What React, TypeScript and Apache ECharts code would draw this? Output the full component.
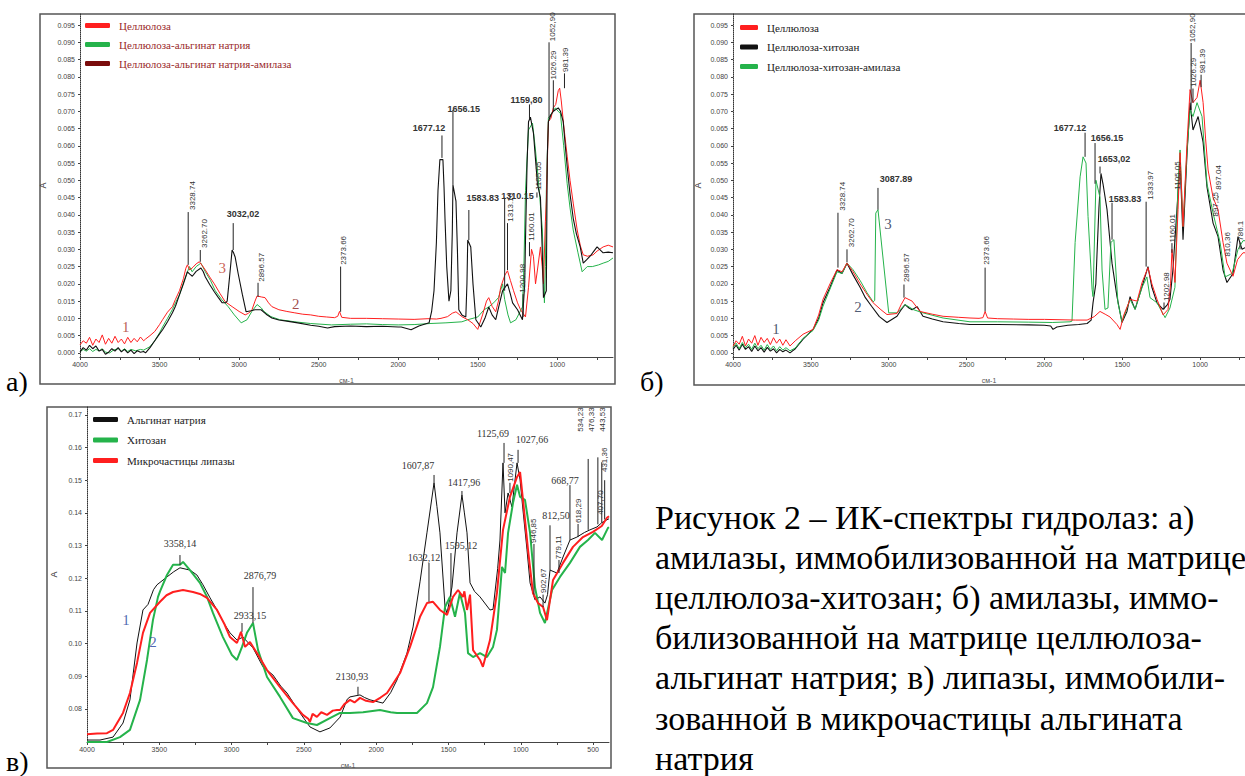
import React, { useEffect, useRef } from "react";
import * as echarts from "echarts";

// ---------- tick labels ----------
const xLabelsAB = [4000, 3500, 3000, 2500, 2000, 1500, 1000];
const xTicksAB = [4000, 3750, 3500, 3250, 3000, 2750, 2500, 2250, 2000, 1750, 1500, 1250, 1000, 750];
const xLabelsC = [4000, 3500, 3000, 2500, 2000, 1500, 1000, 500];
const xTicksC = [4000, 3750, 3500, 3250, 3000, 2750, 2500, 2250, 2000, 1750, 1500, 1250, 1000, 750, 500];
const yLabelsAB = [0, 0.005, 0.01, 0.015, 0.02, 0.025, 0.03, 0.035, 0.04, 0.045, 0.05, 0.055, 0.06, 0.065, 0.07, 0.075, 0.08, 0.085, 0.09, 0.095];
const yLabelsC = [0.08, 0.09, 0.1, 0.11, 0.12, 0.13, 0.14, 0.15, 0.16, 0.17];

// ---------- panel а) ----------
const celluloseA = [[4000,0.0023],[3980,0.0035],[3960,0.0028],[3940,0.0045],[3920,0.0022],[3900,0.004],[3880,0.003],[3860,0.0052],[3840,0.0025],[3820,0.0042],[3800,0.0028],[3780,0.0048],[3760,0.003],[3740,0.004],[3720,0.0026],[3700,0.0045],[3680,0.003],[3660,0.0042],[3640,0.0032],[3620,0.0046],[3600,0.0035],[3588,0.004],[3560,0.005],[3530,0.0062],[3500,0.0082],[3481,0.0096],[3450,0.0118],[3419,0.0134],[3400,0.0155],[3375,0.018],[3350,0.0215],[3335,0.0245],[3325,0.0255],[3310,0.024],[3290,0.0248],[3270,0.0258],[3250,0.0264],[3230,0.0252],[3212,0.024],[3185,0.022],[3156,0.02],[3120,0.0172],[3087,0.0148],[3044,0.0134],[3000,0.012],[2962,0.011],[2940,0.0115],[2919,0.0125],[2900,0.015],[2887,0.0165],[2860,0.0162],[2837,0.016],[2815,0.0145],[2794,0.0134],[2750,0.0125],[2700,0.012],[2650,0.0116],[2600,0.0112],[2550,0.011],[2500,0.0106],[2450,0.0104],[2400,0.0102],[2380,0.0106],[2369,0.012],[2355,0.0103],[2300,0.01],[2200,0.01],[2100,0.0099],[2000,0.0098],[1900,0.0097],[1813,0.0099],[1760,0.0098],[1731,0.01],[1690,0.0105],[1660,0.0115],[1637,0.0119],[1600,0.0105],[1563,0.0096],[1530,0.0085],[1500,0.0068],[1470,0.011],[1445,0.015],[1431,0.016],[1410,0.0135],[1387,0.0119],[1370,0.015],[1356,0.019],[1330,0.0225],[1313,0.0238],[1295,0.021],[1275,0.018],[1250,0.0145],[1231,0.0125],[1200,0.0104],[1181,0.019],[1162,0.03],[1150,0.028],[1137,0.02],[1125,0.024],[1106,0.0307],[1095,0.025],[1087,0.02],[1075,0.038],[1069,0.044],[1056,0.067],[1040,0.068],[1025,0.071],[1010,0.072],[994,0.076],[985,0.0767],[975,0.073],[960,0.066],[938,0.057],[920,0.05],[900,0.0434],[875,0.0356],[855,0.031],[837,0.0284],[810,0.028],[775,0.0284],[750,0.0295],[712,0.0307],[680,0.0312],[650,0.0307]];
const alginateA = [[4000,0.0003],[3980,0.001],[3960,0.0005],[3940,0.0012],[3920,0.0004],[3900,0.001],[3880,0.0006],[3860,0.0012],[3840,0.0002],[3813,0],[3790,0.0008],[3760,0.0012],[3740,0.0005],[3720,0.0012],[3700,0.0004],[3680,0.001],[3650,0.0006],[3620,0.001],[3600,0.0008],[3560,0.0018],[3530,0.0035],[3500,0.0058],[3481,0.0075],[3450,0.01],[3420,0.0125],[3400,0.0145],[3375,0.0168],[3345,0.021],[3312,0.025],[3295,0.0235],[3270,0.025],[3240,0.026],[3212,0.0235],[3180,0.021],[3150,0.018],[3110,0.0155],[3069,0.0134],[3030,0.011],[2987,0.0087],[2950,0.0096],[2920,0.012],[2887,0.014],[2860,0.013],[2844,0.012],[2800,0.0105],[2744,0.0096],[2650,0.009],[2550,0.0085],[2419,0.0081],[2300,0.0083],[2200,0.0084],[2100,0.0082],[2000,0.0081],[1900,0.0082],[1800,0.0085],[1700,0.0087],[1600,0.009],[1563,0.0096],[1500,0.0104],[1460,0.0125],[1431,0.0133],[1400,0.0145],[1370,0.016],[1344,0.02],[1331,0.0155],[1310,0.011],[1294,0.0087],[1260,0.0096],[1219,0.0133],[1210,0.025],[1200,0.047],[1181,0.0646],[1156,0.0666],[1140,0.06],[1125,0.053],[1110,0.045],[1094,0.0356],[1081,0.0145],[1075,0.025],[1069,0.047],[1056,0.068],[1035,0.0695],[1012,0.071],[995,0.07],[981,0.0695],[960,0.06],[938,0.049],[920,0.042],[900,0.0356],[870,0.029],[844,0.0235],[812,0.025],[780,0.025],[740,0.0255],[712,0.026],[680,0.0265],[650,0.0275]];
const amylaseA = [[4000,0.0003],[3980,0.0015],[3960,0.0008],[3940,0.0022],[3920,0.0012],[3900,0.002],[3880,0.0005],[3860,0.001],[3840,-0.0004],[3820,0.0002],[3800,0.0012],[3780,0.0005],[3760,0.0015],[3740,0.0003],[3720,0.001],[3700,0],[3680,0.0008],[3660,-0.0002],[3640,0.0006],[3620,0.0002],[3600,0.0004],[3588,0],[3560,0.0015],[3530,0.0035],[3500,0.0055],[3481,0.0067],[3450,0.009],[3419,0.0116],[3400,0.0135],[3375,0.0168],[3350,0.02],[3325,0.0235],[3310,0.0228],[3294,0.0222],[3270,0.0236],[3240,0.0246],[3225,0.0235],[3212,0.022],[3185,0.0198],[3156,0.0177],[3130,0.016],[3106,0.0145],[3085,0.0145],[3075,0.015],[3060,0.022],[3044,0.0298],[3035,0.029],[3025,0.0278],[3006,0.023],[2980,0.017],[2956,0.0119],[2925,0.0122],[2900,0.0125],[2862,0.0125],[2830,0.0112],[2794,0.0101],[2750,0.0095],[2700,0.0092],[2631,0.0087],[2550,0.008],[2500,0.0077],[2444,0.0072],[2400,0.0076],[2300,0.0078],[2200,0.0076],[2100,0.0077],[2000,0.0075],[1981,0.0075],[1919,0.0067],[1870,0.0078],[1806,0.0087],[1790,0.012],[1775,0.018],[1760,0.032],[1750,0.047],[1738,0.056],[1719,0.056],[1712,0.048],[1706,0.039],[1695,0.025],[1681,0.015],[1669,0.018],[1660,0.035],[1656,0.0487],[1637,0.044],[1628,0.03],[1619,0.0125],[1600,0.011],[1575,0.0104],[1568,0.02],[1563,0.0327],[1544,0.0307],[1530,0.02],[1512,0.0096],[1481,0.0075],[1455,0.01],[1431,0.0133],[1410,0.011],[1387,0.0096],[1365,0.014],[1344,0.018],[1313,0.02],[1295,0.017],[1281,0.0145],[1250,0.0125],[1219,0.0096],[1205,0.02],[1200,0.0327],[1190,0.055],[1181,0.067],[1169,0.0683],[1150,0.0637],[1137,0.056],[1125,0.049],[1106,0.045],[1095,0.03],[1087,0.016],[1069,0.018],[1063,0.057],[1056,0.067],[1040,0.069],[1025,0.07],[1010,0.0705],[994,0.071],[980,0.07],[963,0.067],[950,0.06],[938,0.054],[920,0.046],[900,0.039],[880,0.0345],[856,0.0307],[837,0.026],[815,0.027],[794,0.028],[770,0.0295],[750,0.0307],[712,0.029],[680,0.0292],[650,0.029]];

// ---------- panel б) ----------
const celluloseB = [[4000,0.0019],[3980,0.0035],[3960,0.0025],[3940,0.0048],[3920,0.002],[3900,0.004],[3880,0.0028],[3860,0.005],[3840,0.0022],[3820,0.0045],[3800,0.003],[3780,0.0042],[3760,0.0024],[3740,0.0044],[3720,0.0028],[3700,0.004],[3680,0.0022],[3660,0.0038],[3634,0.002],[3600,0.0035],[3550,0.0054],[3486,0.0068],[3450,0.011],[3422,0.0155],[3377,0.02],[3332,0.0241],[3300,0.0235],[3268,0.026],[3229,0.0235],[3184,0.02],[3140,0.017],[3100,0.0145],[3050,0.0125],[3011,0.0111],[2947,0.0114],[2920,0.014],[2895,0.016],[2850,0.015],[2799,0.012],[2720,0.0112],[2651,0.0106],[2550,0.0103],[2478,0.0101],[2420,0.01],[2395,0.0102],[2381,0.012],[2365,0.0101],[2300,0.0099],[2200,0.0098],[2100,0.0097],[2000,0.0097],[1900,0.0096],[1800,0.0095],[1726,0.0095],[1680,0.0105],[1643,0.012],[1610,0.0112],[1579,0.0104],[1534,0.0082],[1514,0.0068],[1490,0.011],[1450,0.0155],[1405,0.015],[1373,0.0204],[1335,0.0247],[1310,0.02],[1277,0.0155],[1238,0.011],[1206,0.0126],[1190,0.02],[1181,0.03],[1162,0.0204],[1142,0.0415],[1129,0.058],[1110,0.0366],[1084,0.061],[1065,0.0763],[1046,0.0725],[1020,0.074],[1000,0.079],[981,0.0725],[965,0.062],[949,0.053],[917,0.045],[885,0.0415],[853,0.032],[828,0.026],[789,0.0222],[760,0.027],[725,0.029],[712,0.029]];
const chitosanB = [[4000,0.001],[3980,0.0022],[3960,0.0008],[3940,0.0025],[3920,0.001],[3900,0.0018],[3880,0.0004],[3860,0.002],[3840,0.0006],[3820,0.0015],[3800,0.0002],[3780,0.0016],[3760,0.0005],[3740,0.0012],[3720,0],[3700,0.001],[3680,0.0003],[3660,0.0008],[3634,0],[3600,0.0012],[3550,0.004],[3486,0.0068],[3450,0.01],[3422,0.0145],[3377,0.019],[3332,0.024],[3300,0.023],[3268,0.026],[3229,0.0226],[3184,0.019],[3150,0.016],[3110,0.0135],[3060,0.0105],[3011,0.0088],[2947,0.0106],[2920,0.0125],[2895,0.014],[2870,0.013],[2850,0.0125],[2818,0.0134],[2780,0.0106],[2720,0.0098],[2651,0.009],[2550,0.0085],[2478,0.0082],[2300,0.0082],[2100,0.0081],[2000,0.008],[1960,0.0078],[1945,0.0068],[1920,0.0075],[1850,0.008],[1780,0.0082],[1726,0.0085],[1700,0.0095],[1688,0.0145],[1670,0.02],[1663,0.028],[1650,0.042],[1637,0.052],[1624,0.049],[1598,0.0415],[1566,0.026],[1534,0.0163],[1502,0.0088],[1470,0.012],[1450,0.0163],[1418,0.0126],[1373,0.0192],[1335,0.025],[1310,0.019],[1277,0.0145],[1238,0.0126],[1210,0.014],[1194,0.0155],[1175,0.024],[1149,0.0415],[1129,0.0559],[1110,0.0328],[1084,0.058],[1065,0.0725],[1046,0.0646],[1013,0.0685],[981,0.061],[956,0.048],[917,0.0376],[885,0.0337],[853,0.024],[828,0.0204],[789,0.023],[757,0.0337],[731,0.03],[712,0.0305]];
const amylaseB = [[4000,0.0016],[3980,0.0028],[3960,0.0012],[3940,0.003],[3920,0.0015],[3900,0.0025],[3880,0.001],[3860,0.0028],[3840,0.0012],[3820,0.0022],[3800,0.0008],[3780,0.0024],[3760,0.001],[3740,0.002],[3720,0.0006],[3700,0.0018],[3680,0.0008],[3660,0.0015],[3634,0.0006],[3600,0.0014],[3550,0.0042],[3486,0.0065],[3450,0.0095],[3422,0.0135],[3377,0.0185],[3332,0.0235],[3300,0.023],[3268,0.026],[3229,0.0241],[3184,0.021],[3140,0.0175],[3100,0.0148],[3090,0.0152],[3083,0.0405],[3069,0.0415],[3000,0.0116],[2947,0.0116],[2895,0.014],[2840,0.0125],[2780,0.0116],[2651,0.0101],[2478,0.009],[2300,0.009],[2100,0.0089],[1950,0.0088],[1836,0.009],[1823,0.0092],[1803,0.032],[1771,0.051],[1752,0.0568],[1733,0.055],[1720,0.0395],[1694,0.0184],[1688,0.0163],[1669,0.05],[1643,0.045],[1630,0.024],[1611,0.0126],[1592,0.013],[1573,0.032],[1554,0.0328],[1528,0.0145],[1502,0.009],[1450,0.0155],[1418,0.0126],[1373,0.019],[1342,0.022],[1322,0.016],[1277,0.0145],[1225,0.0102],[1194,0.013],[1162,0.019],[1142,0.049],[1129,0.0588],[1110,0.0366],[1084,0.0588],[1065,0.0704],[1046,0.0685],[1020,0.0725],[988,0.0685],[956,0.049],[917,0.0405],[872,0.032],[840,0.022],[795,0.023],[757,0.03],[725,0.0325],[712,0.0325]];

// ---------- panel в) ----------
const alginateC = [[4000,0.0705],[3910,0.0705],[3820,0.0714],[3751,0.0757],[3703,0.0828],[3654,0.1002],[3613,0.1103],[3578,0.112],[3540,0.1165],[3516,0.118],[3447,0.1204],[3400,0.122],[3357,0.1232],[3288,0.1225],[3240,0.121],[3198,0.118],[3149,0.114],[3101,0.1103],[3050,0.106],[3011,0.1033],[2963,0.1011],[2921,0.102],[2890,0.1005],[2852,0.0987],[2783,0.0929],[2714,0.0904],[2660,0.087],[2617,0.0849],[2527,0.0788],[2458,0.0745],[2389,0.073],[2320,0.0742],[2250,0.0775],[2200,0.083],[2181,0.0837],[2112,0.0843],[2080,0.0835],[2043,0.0828],[1953,0.0818],[1900,0.085],[1856,0.0889],[1787,0.0971],[1745,0.1051],[1697,0.1189],[1649,0.1339],[1600,0.1492],[1580,0.142],[1559,0.1339],[1524,0.1112],[1510,0.1093],[1476,0.1173],[1441,0.1339],[1407,0.1455],[1390,0.14],[1372,0.1339],[1351,0.1186],[1320,0.116],[1282,0.1143],[1213,0.1103],[1192,0.1105],[1160,0.123],[1144,0.1317],[1123,0.1553],[1109,0.14],[1088,0.1461],[1061,0.1418],[1040,0.15],[1026,0.1553],[1005,0.1501],[985,0.1409],[957,0.1287],[936,0.1186],[902,0.1134],[867,0.1143],[833,0.1124],[815,0.115],[798,0.1225],[750,0.1216],[708,0.1265],[660,0.1317],[612,0.1326],[560,0.134],[522,0.1348],[473,0.1357],[440,0.137],[404,0.1379],[390,0.1382]];
const chitosanC = [[4000,0.0699],[3862,0.0699],[3772,0.0714],[3703,0.0736],[3633,0.0828],[3585,0.095],[3544,0.1072],[3509,0.1143],[3495,0.116],[3447,0.121],[3405,0.1241],[3357,0.1241],[3336,0.125],[3288,0.1225],[3219,0.1186],[3170,0.1143],[3129,0.1094],[3060,0.102],[2998,0.0965],[2963,0.095],[2928,0.099],[2894,0.1033],[2852,0.1063],[2817,0.098],[2755,0.0898],[2665,0.0837],[2576,0.0772],[2479,0.0757],[2410,0.0751],[2320,0.0772],[2250,0.0788],[2181,0.0788],[2091,0.079],[1974,0.0797],[1900,0.079],[1856,0.0788],[1718,0.0788],[1649,0.0818],[1607,0.0867],[1559,0.099],[1524,0.1112],[1490,0.1143],[1455,0.1082],[1421,0.1155],[1386,0.1094],[1365,0.0971],[1330,0.0959],[1282,0.0971],[1234,0.0959],[1192,0.099],[1165,0.1042],[1130,0.1235],[1109,0.1216],[1088,0.1339],[1054,0.143],[1026,0.1486],[1005,0.1449],[971,0.144],[936,0.1339],[902,0.1173],[867,0.1094],[833,0.1063],[784,0.1164],[729,0.1204],[660,0.1247],[591,0.1296],[535,0.1317],[487,0.1339],[438,0.1317],[397,0.1354],[390,0.1356]];
const lipaseC = [[4000,0.0723],[3930,0.0725],[3862,0.0726],[3820,0.0736],[3751,0.0788],[3703,0.0849],[3654,0.0941],[3613,0.1033],[3564,0.1094],[3495,0.1128],[3450,0.1148],[3405,0.1158],[3336,0.1164],[3267,0.1158],[3219,0.1152],[3170,0.114],[3101,0.1103],[3050,0.106],[3011,0.102],[2963,0.1002],[2935,0.1036],[2907,0.099],[2873,0.1005],[2825,0.0971],[2755,0.0919],[2665,0.0867],[2576,0.0818],[2507,0.0782],[2470,0.077],[2458,0.076],[2440,0.0785],[2410,0.0776],[2380,0.079],[2340,0.0782],[2300,0.0795],[2271,0.0797],[2250,0.0797],[2220,0.0815],[2181,0.0828],[2150,0.082],[2112,0.0834],[2070,0.0825],[2022,0.0821],[1970,0.0835],[1925,0.0849],[1835,0.091],[1766,0.099],[1697,0.1082],[1649,0.1124],[1607,0.1128],[1559,0.1103],[1510,0.1088],[1469,0.1143],[1434,0.1164],[1400,0.1143],[1390,0.116],[1372,0.1103],[1351,0.115],[1330,0.098],[1282,0.095],[1262,0.0929],[1213,0.1011],[1165,0.1155],[1123,0.1348],[1075,0.1449],[1026,0.151],[1005,0.1525],[985,0.144],[950,0.1287],[916,0.1155],[881,0.1124],[846,0.1112],[819,0.1072],[777,0.1195],[708,0.1247],[639,0.1296],[570,0.1326],[501,0.1342],[440,0.136],[404,0.1385],[390,0.139]];

// ---------- peak annotations: [lineW, vFrom, vTo, textW, textV, label, vertical] ----------
const peaksA: any[] = [
  [3320, 0.0255, 0.0408, 3295, 0.0414, "3328.74", 1],
  [3244, 0.0264, 0.0298, 3219, 0.0304, "3262.70", 1],
  [3037, 0.0298, 0.0376, 2975, 0.0402, "3032,02", 0],
  [2881, 0.0162, 0.0203, 2862, 0.0206, "2896.57", 1],
  [2362, 0.0119, 0.025, 2344, 0.0255, "2373.66", 1],
  [1725, 0.0565, 0.063, 1806, 0.0652, "1677.12", 0],
  [1656, 0.0487, 0.0704, 1588, 0.0707, "1656.15", 0],
  [1556, 0.0327, 0.0414, 1469, 0.0449, "1583.83", 0],
  [1331, 0.018, 0.045, 1250, 0.0455, "1310.15", 0],
  [1313, 0.024, 0.0376, 1294, 0.038, "1313.16", 1],
  [1215, 0.0104, 0.017, 1219, 0.0174, "1200.98", 1],
  [1175, 0.028, 0.0321, 1165, 0.0325, "1160.01", 1],
  [1175, 0.0675, 0.072, 1194, 0.0733, "1159,80", 0],
  [1128, 0.045, 0.0465, 1120, 0.0472, "1105.05", 1],
  [1052, 0.068, 0.09, 1030, 0.0903, "1052,90", 1],
  [1025, 0.07, 0.079, 1025, 0.0792, "1026.29", 1],
  [955, 0.0767, 0.081, 950, 0.0814, "981.39", 1],
];
const peaksB: any[] = [
  [3326, 0.0247, 0.0406, 3300, 0.0412, "3328.74", 1],
  [3268, 0.0262, 0.03, 3236, 0.0306, "3262.70", 1],
  [3069, 0.0415, 0.0478, 2953, 0.0505, "3087.89", 0],
  [2902, 0.016, 0.0198, 2889, 0.0205, "2896.57", 1],
  [2381, 0.012, 0.0247, 2369, 0.0255, "2373.66", 1],
  [1739, 0.0568, 0.0638, 1836, 0.0652, "1677.12", 0],
  [1675, 0.049, 0.0608, 1598, 0.0623, "1656.15", 0],
  [1643, 0.052, 0.054, 1553, 0.0562, "1653,02", 0],
  [1566, 0.0328, 0.0435, 1482, 0.0447, "1583.83", 0],
  [1347, 0.025, 0.0438, 1322, 0.0444, "1333.97", 1],
  [1232, 0.0126, 0.0146, 1219, 0.015, "1202.98", 1],
  [1181, 0.029, 0.0318, 1175, 0.032, "1160.01", 1],
  [1142, 0.047, 0.047, 1148, 0.0473, "1105.05", 1],
  [1058, 0.0704, 0.0898, 1052, 0.09, "1052,90", 1],
  [1046, 0.0725, 0.0766, 1040, 0.0771, "1026.29", 1],
  [994, 0.077, 0.0806, 985, 0.081, "981.39", 1],
  [885, 0.045, 0.0455, 885, 0.0473, "897.04", 1],
  [904, 0.0395, 0.0395, 904, 0.0395, "897,25", 1],
  [827, 0.0279, 0.0279, 827, 0.0279, "810,36", 1],
  [744, 0.03, 0.032, 744, 0.0325, "786.1", 1],
];
const peaksC: any[] = [
  [3357, 0.1241, 0.1271, 3357, 0.1305, "3358,14", 0],
  [2852, 0.1063, 0.1173, 2804, 0.1207, "2876,79", 0],
  [2928, 0.1036, 0.1063, 2873, 0.1085, "2933,15", 0],
  [2126, 0.0843, 0.0868, 2167, 0.0898, "2130,93", 0],
  [1600, 0.1492, 0.1516, 1711, 0.1544, "1607,87", 0],
  [1635, 0.1128, 0.1247, 1669, 0.1265, "1632,12", 0],
  [1407, 0.1455, 0.1467, 1393, 0.1492, "1417,96", 0],
  [1483, 0.1143, 0.1277, 1413, 0.1299, "1595,12", 0],
  [1116, 0.1553, 0.1614, 1192, 0.1642, "1125,69", 0],
  [1075, 0.1461, 0.1492, 1068, 0.1495, "1090,47", 1],
  [1019, 0.1553, 0.1593, 923, 0.1626, "1027,66", 0],
  [909, 0.115, 0.1305, 909, 0.1308, "946,85", 1],
  [846, 0.1112, 0.115, 846, 0.1155, "902,67", 1],
  [798, 0.1225, 0.1362, 757, 0.1391, "812,50", 0],
  [736, 0.1216, 0.1256, 736, 0.1258, "779,11", 1],
  [660, 0.1317, 0.1485, 694, 0.1498, "668,77", 0],
  [604, 0.1326, 0.1366, 604, 0.1369, "618,29", 1],
  [534, 0.1348, 0.1565, 584, 0.1648, "534,23", 1],
  [467, 0.1365, 0.157, 508, 0.1648, "476,33", 1],
  [440, 0.137, 0.1555, 432, 0.1648, "443,53", 1],
  [420, 0.138, 0.15, 418, 0.1525, "431,36", 1],
  [452, 0.1365, 0.1365, 452, 0.1394, "407,70", 1],
];

// ---------- curve numbers: [w, v, text, color] ----------
const tagsA: any[] = [[3712, 0.0075, "1", "#a8352d"], [2644, 0.0142, "2", "#8b1a1a"], [3106, 0.0246, "3", "#c0392b"]];
const tagsB: any[] = [[3724, 0.0068, "1", "#1c2a4a"], [3197, 0.0134, "2", "#1f3050"], [3005, 0.0372, "3", "#1c2a4a"]];
const tagsC: any[] = [[3730, 0.1072, "1", "#1f3f9f"], [3544, 0.1005, "2", "#1f3f9f"]];

const captionLines = [
  "Рисунок 2 – ИК-спектры гидролаз: а)",
  "амилазы, иммобилизованной на матрице",
  "целлюлоза-хитозан; б) амилазы, иммо-",
  "билизованной на матрице целлюлоза-",
  "альгинат натрия; в) липазы, иммобили-",
  "зованной в микрочастицы альгината",
  "натрия",
];

const RED = "#ff1f1f";
const GREEN = "#25b34b";
const BLACK = "#111111";
const SERIF = "Liberation Serif, DejaVu Serif, serif";
const SANS = "Liberation Sans, DejaVu Sans, sans-serif";

function xAxis(grid: number, min: number, labels: number[], ticks: number[]) {
  return {
    gridIndex: grid, type: "value", inverse: true, min, max: 4000,
    name: "см-1", nameLocation: "middle", nameGap: 20,
    nameTextStyle: { fontSize: 7, color: "#555", fontFamily: SANS },
    axisLine: { show: true, onZero: false, lineStyle: { color: "#444", width: 1 } },
    axisTick: { show: true, length: 3, customValues: ticks, lineStyle: { color: "#444" } },
    axisLabel: { customValues: labels, fontSize: 7, color: "#444", fontFamily: SANS, margin: 4, formatter: (v: number) => String(v) },
    splitLine: { show: false },
  };
}
function yAxis(grid: number, min: number, max: number, labels: number[], digits: number, gap: number) {
  return {
    gridIndex: grid, type: "value", min, max,
    name: "A", nameLocation: "middle", nameGap: gap, nameRotate: 90,
    nameTextStyle: { fontSize: 9, color: "#333", fontFamily: SANS },
    axisLine: { show: true, onZero: false, lineStyle: { color: "#333", width: 1, type: "dotted" } },
    axisTick: { show: true, length: 2, customValues: labels, lineStyle: { color: "#444" } },
    axisLabel: { customValues: labels, fontSize: 7, color: "#444", fontFamily: SANS, margin: 5, formatter: (v: number) => v.toFixed(digits) },
    splitLine: { show: false },
  };
}
function line(name: string, data: number[][], idx: number, color: string, width: number, legendColor?: string) {
  return {
    type: "line", name, data, xAxisIndex: idx, yAxisIndex: idx, showSymbol: false, symbol: "none",
    lineStyle: { color, width }, itemStyle: { color: legendColor || color }, silent: true, z: 3,
  };
}
function peakSeries(peaks: any[], idx: number, hFamily: string, hSize: number, hWeight: string) {
  return {
    type: "custom", xAxisIndex: idx, yAxisIndex: idx, silent: true, clip: false, z: 6,
    data: peaks.map((p) => [p[0], p[2]]),
    renderItem: (params: any, api: any) => {
      const p = peaks[params.dataIndex];
      const a = api.coord([p[0], p[1]]);
      const b = api.coord([p[0], p[2]]);
      const t = api.coord([p[3], p[4]]);
      const children: any[] = [];
      if (p[1] !== p[2]) {
        children.push({ type: "line", shape: { x1: a[0], y1: a[1], x2: b[0], y2: b[1] }, style: { stroke: "#222", lineWidth: 1 } });
      }
      if (p[6]) {
        children.push({ type: "text", x: t[0], y: t[1], rotation: Math.PI / 2, style: { text: p[5], fontFamily: SANS, fontSize: 8, fill: "#333", align: "left", verticalAlign: "middle" } });
      } else {
        children.push({ type: "text", x: t[0], y: t[1], style: { text: p[5], fontFamily: hFamily, fontSize: hSize, fontWeight: hWeight, fill: "#333", align: "center", verticalAlign: "middle" } });
      }
      return { type: "group", children };
    },
  };
}
function tagSeries(tags: any[], idx: number) {
  return {
    type: "scatter", xAxisIndex: idx, yAxisIndex: idx, silent: true, symbolSize: 1, z: 7,
    itemStyle: { color: "rgba(0,0,0,0)" },
    data: tags.map((t) => ({ value: [t[0], t[1]], label: { show: true, position: "inside", formatter: t[2], color: t[3], fontSize: 15, fontFamily: SERIF } })),
  };
}
function legend(left: number, top: number, gap: number, iw: number, color: string, items: [string, string][]) {
  return {
    orient: "vertical", left, top, padding: 0, itemWidth: iw, itemHeight: 5, itemGap: gap, icon: "roundRect",
    selectedMode: false,
    textStyle: { fontFamily: SERIF, fontSize: 11, color, lineHeight: 13, padding: [0, 0, 0, 4] },
    data: items.map(([name, c]) => ({ name, itemStyle: { color: c } })),
  };
}
function txt(x: number, y: number, text: string, size: number) {
  return { type: "text", silent: true, x, y, style: { text, fontFamily: SERIF, fontSize: size, fill: "#000", verticalAlign: "middle" } };
}

function buildOption() {
  const graphic: any[] = [
    { type: "rect", silent: true, z: -1, shape: { x: 40, y: 14, width: 575, height: 370 }, style: { fill: "none", stroke: "#555", lineWidth: 1.5 } },
    { type: "rect", silent: true, z: -1, shape: { x: 694, y: 14, width: 570, height: 371 }, style: { fill: "none", stroke: "#555", lineWidth: 1.5 } },
    { type: "rect", silent: true, z: -1, shape: { x: 47, y: 407, width: 564, height: 361 }, style: { fill: "none", stroke: "#555", lineWidth: 1.5 } },
    txt(6, 381, "а)", 28),
    txt(640, 381, "б)", 28),
    txt(6, 761, "в)", 28),
  ];
  captionLines.forEach((s, i) => graphic.push(txt(655, 517 + i * 40.2, s, 34)));

  return {
    animation: false,
    backgroundColor: "#fff",
    grid: [
      { left: 80, top: 14, width: 533, height: 343 },
      { left: 733, top: 14, width: 512, height: 343 },
      { left: 87, top: 407, width: 522, height: 335 },
    ],
    xAxis: [xAxis(0, 650, xLabelsAB, xTicksAB), xAxis(1, 712, xLabelsAB, xTicksAB), xAxis(2, 390, xLabelsC, xTicksC)],
    yAxis: [
      yAxis(0, -0.0012, 0.0982, yLabelsAB, 3, 33),
      yAxis(1, -0.0012, 0.0982, yLabelsAB, 3, 31),
      yAxis(2, 0.0699, 0.1724, yLabelsC, 2, 29),
    ],
    legend: [
      legend(85, 19, 6, 25, "#9a2a2a", [["Целлюлоза", RED], ["Целлюлоза-альгинат натрия", GREEN], ["Целлюлоза-альгинат натрия-амилаза", "#7a0c0c"]]),
      legend(740, 21, 6.5, 18, "#222", [["Целлюлоза", RED], ["Целлюлоза-хитозан", BLACK], ["Целлюлоза-хитозан-амилаза", GREEN]]),
      legend(93, 413, 7.5, 25, "#222", [["Альгинат натрия", BLACK], ["Хитозан", GREEN], ["Микрочастицы липазы", RED]]),
    ],
    graphic,
    series: [
      line("Целлюлоза-альгинат натрия", alginateA, 0, GREEN, 1),
      line("Целлюлоза", celluloseA, 0, RED, 1),
      line("Целлюлоза-альгинат натрия-амилаза", amylaseA, 0, BLACK, 1.1, "#7a0c0c"),
      peakSeries(peaksA, 0, SANS, 9, "bold"),
      tagSeries(tagsA, 0),
      line("Целлюлоза-хитозан", chitosanB, 1, BLACK, 1.1),
      line("Целлюлоза-хитозан-амилаза", amylaseB, 1, GREEN, 1),
      line("Целлюлоза", celluloseB, 1, RED, 1),
      peakSeries(peaksB, 1, SANS, 9, "bold"),
      tagSeries(tagsB, 1),
      line("Альгинат натрия", alginateC, 2, BLACK, 1),
      line("Хитозан", chitosanC, 2, GREEN, 2),
      line("Микрочастицы липазы", lipaseC, 2, RED, 2),
      peakSeries(peaksC, 2, SERIF, 10, "normal"),
      tagSeries(tagsC, 2),
    ],
  };
}

export default function App() {
  const ref = useRef<HTMLDivElement>(null);
  useEffect(() => {
    const chart = echarts.init(ref.current!, null, { renderer: "svg" });
    chart.setOption(buildOption() as any);
    return () => chart.dispose();
  }, []);
  return <div ref={ref} style={{ position: "absolute", left: 0, top: 0, width: 1245, height: 776, background: "#fff" }} />;
}
